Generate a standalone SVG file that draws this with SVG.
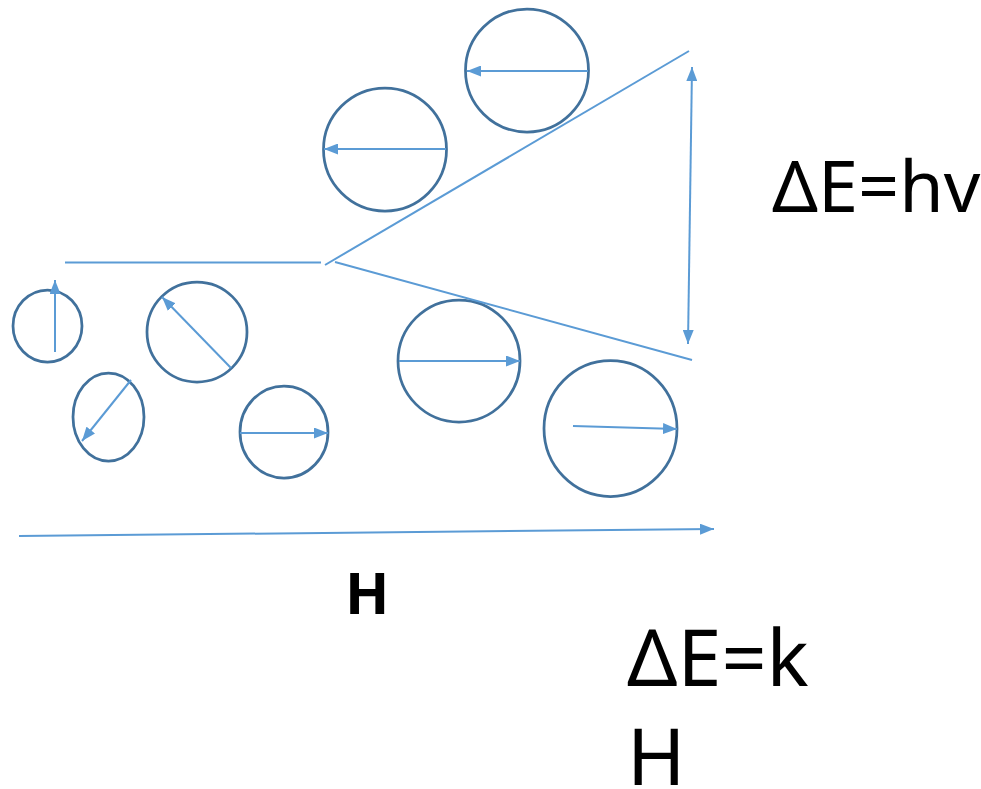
<svg xmlns="http://www.w3.org/2000/svg" width="981" height="789" viewBox="0 0 981 789">
<defs>
<marker id="ah" markerUnits="userSpaceOnUse" markerWidth="14" markerHeight="11" refX="14" refY="5.5" orient="auto-start-reverse" viewBox="0 0 14 11">
<path d="M0,0 L14,5.5 L0,11 z" fill="#5B9BD5"/>
</marker>
<style>
.c{fill:none;stroke:#41719C;stroke-width:2.75}
.a{fill:none;stroke:#5B9BD5;stroke-width:2;marker-end:url(#ah)}
.l{fill:none;stroke:#5B9BD5;stroke-width:2}
.t{font-family:"Noto Sans","Open Sans","DejaVu Sans",sans-serif;fill:#000}
</style>
</defs>
<rect width="981" height="789" fill="#fff"/>
<g id="particle1"><ellipse class="c" cx="47.5" cy="326" rx="34.5" ry="36"/><line class="a" x1="55" y1="352" x2="55" y2="280"/></g>
<g id="particle2"><ellipse class="c" cx="108.5" cy="417" rx="35.5" ry="44"/><line class="a" x1="131" y1="380" x2="82" y2="441"/></g>
<g id="particle3"><circle class="c" cx="197" cy="332" r="50"/><line class="a" x1="231" y1="368" x2="162" y2="297"/></g>
<g id="particle4"><ellipse class="c" cx="284" cy="432" rx="44" ry="46"/><line class="a" x1="240" y1="433" x2="328" y2="433"/></g>
<g id="particle5"><circle class="c" cx="385" cy="149.5" r="61.5"/><line class="a" x1="446" y1="149" x2="324" y2="149"/></g>
<g id="particle6"><circle class="c" cx="527" cy="70.5" r="61.5"/><line class="a" x1="588" y1="71" x2="467" y2="71"/></g>
<g id="particle7"><circle class="c" cx="459" cy="361" r="61"/><line class="a" x1="399" y1="361" x2="520" y2="361"/></g>
<g id="particle8"><ellipse class="c" cx="610.5" cy="428.5" rx="66.5" ry="68"/><line class="a" x1="573" y1="426" x2="677" y2="429"/></g>
<g id="connectors">
<line class="l" x1="65" y1="262.5" x2="321" y2="262.5"/>
<line class="l" x1="325" y1="265" x2="689" y2="51"/>
<line class="l" x1="335" y1="262" x2="692" y2="360"/>
<line class="a" x1="692" y1="67" x2="688" y2="344" style="marker-start:url(#ah)"/>
<line class="a" x1="19" y1="536" x2="714" y2="529"/>
</g>
<g id="labels">
<text class="t" x="772" y="212" font-size="72">ΔE=hv</text>
<text class="t" x="345" y="614" font-size="58" font-weight="bold">H</text>
<text class="t" x="627" y="686" font-size="79">ΔE=k</text>
<text class="t" x="627" y="785" font-size="79">H</text>
</g>
</svg>
